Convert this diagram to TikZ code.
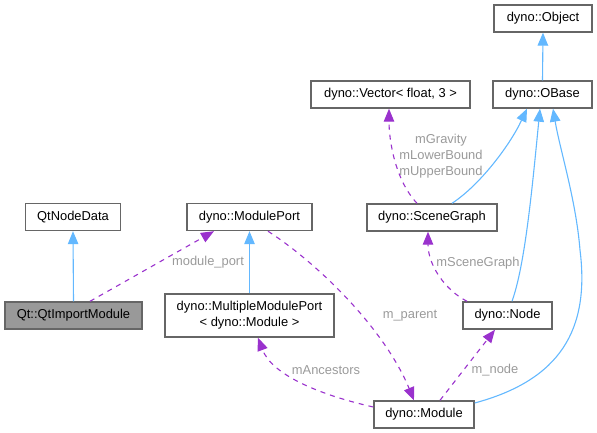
\documentclass[tikz,border=0pt]{standalone}
\usepackage{fontspec}
\setmainfont{Liberation Sans}
\usetikzlibrary{arrows.meta}
\definecolor{edgeblue}{HTML}{63B8FF}
\definecolor{edgepurple}{HTML}{9A32CD}
\definecolor{lblgray}{HTML}{9A9A9A}
\definecolor{boxgray}{HTML}{666666}
\definecolor{hlgray}{HTML}{999999}

\begin{document}
\begin{tikzpicture}[x=1pt, y=-1pt, cls/.style = {draw=boxgray, line width=1.4pt, fill=white, font=\fontsize{12.9}{16}\selectfont, inner sep=0pt, minimum height=27pt, align=center}, inh/.style = {edgeblue, line width=1.1pt, -{Triangle[length=13pt,width=10.5pt]}}, use/.style = {edgepurple, line width=1.1pt, dash pattern=on 5pt off 5pt, -{Triangle[length=13pt,width=10.5pt]}}, lbl/.style = {text=lblgray, font=\fontsize{12.9}{16}\selectfont, inner sep=0pt, align=center}]

\useasboundingbox (0,0) rectangle (597,433);

% Classes
\node[cls, minimum width=98pt] (obj) at (543,18.5) {dyno::Object};
\node[cls, minimum width=99pt] (obase) at (542.5,94.5) {dyno::OBase};
\node[cls, minimum width=159pt] (vec) at (390.5,94.5) {dyno::Vector< float, 3 >};
\node[cls, minimum width=130pt] (sg) at (432,217.5) {dyno::SceneGraph};
\node[cls, minimum width=95pt] (qnd) at (73,217) {QtNodeData};
\node[cls, minimum width=125pt] (mp) at (249.5,217) {dyno::ModulePort};
\node[cls, minimum width=137pt, fill=hlgray] (qim) at (73.5,315.5) {Qt::QtImportModule};
\node[cls, minimum width=169pt, minimum height=43pt] (mmp) at (249.5,315.5) {dyno::MultipleModulePort\\< dyno::Module >};
\node[cls, minimum width=89pt] (node) at (507.5,315.5) {dyno::Node};
\node[cls, minimum width=100pt] (mod) at (424,414.5) {dyno::Module};

% Inheritance
\draw[inh] (obase.north) -- (obj.south);
\draw[inh] (qim.north) -- (qnd.south);
\draw[inh] (mmp.north) -- (mp.south);
\draw[inh] ([xshift=20pt]sg.north) .. controls (480,185) and (510,145) .. ([xshift=-15.5pt]obase.south);
\draw[inh] ([xshift=4.5pt]node.north) .. controls (525,265) and (532,190) .. ([xshift=-2.5pt]obase.south);
\draw[inh] ([yshift=11.5pt]mod.east) .. controls (560,380) and (590,330) .. (580,250) .. controls (576,200) and (560,150) .. ([xshift=10.5pt]obase.south);

% Usage
\draw[use] ([xshift=16.5pt]qim.north) -- ([xshift=-35.5pt]mp.south);
\draw[use] ([xshift=18.5pt]mp.south) .. controls (320,265) and (385,330) .. ([xshift=-10pt]mod.north);
\draw[use] ([yshift=7.5pt]mod.west) .. controls (320,395) and (272,375) .. ([xshift=8.5pt]mmp.south);
\draw[use] ([xshift=-15pt]sg.north) .. controls (395,180) and (389,140) .. ([xshift=-1.5pt]vec.south);
\draw[use] ([xshift=-40.5pt]node.north) .. controls (445,290) and (428,265) .. ([xshift=-4pt]sg.south);
\draw[use] ([xshift=16pt]mod.north) -- ([xshift=-12.5pt]node.south);

% Labels
\node[lbl] (lport) at (208,262) {module\_port};
\node[lbl] (lparent) at (410,316) {m\_parent};
\node[lbl] (lanc) at (326,370) {mAncestors};
\node[lbl] (lnode) at (495,370) {m\_node};
\node[lbl] (lsg) at (478,263) {mSceneGraph};
\node[lbl] (lvec) at (441,156) {mGravity\\mLowerBound\\mUpperBound};

\end{tikzpicture}
\end{document}
